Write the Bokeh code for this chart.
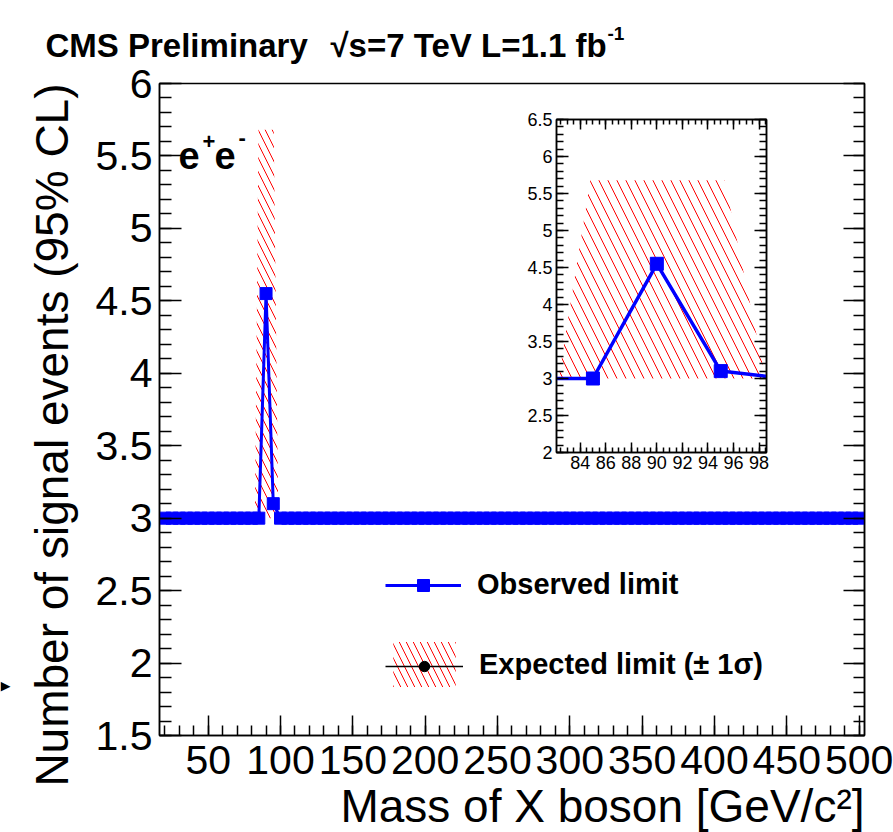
import numpy as np
from bokeh.plotting import figure
from bokeh.models import (Range1d, LinearAxis, FixedTicker, CustomJSTickFormatter,
                          Legend, LegendItem, Label, Title)
from bokeh.layouts import column
from bokeh.embed import file_html
from bokeh.resources import INLINE

# ---------------- data ----------------
obs_mass = list(range(20, 505, 5))                       # GeV/c^2, one point every 5 GeV
obs_limit = ([3.0] * 13 +                                # 20 ... 80
             [3.0, 4.55, 3.10, 3.0] +                    # 85, 90, 95, 100
             [3.0] * 80)                                 # 105 ... 500

exp_mass = [82.3, 84.8, 90.0, 95.3, 98.5]
exp_low = [3.0, 3.0, 3.0, 3.0, 3.0]
exp_high = [3.0, 5.68, 5.68, 5.68, 3.0]

x_major = [50, 100, 150, 200, 250, 300, 350, 400, 450, 500]
x_minor = list(range(20, 510, 10))
y_major = [1.5, 2.0, 2.5, 3.0, 3.5, 4.0, 4.5, 5.0, 5.5, 6.0]
y_minor = [round(1.5 + 0.1 * i, 1) for i in range(46)]

ins_x_major = [84, 86, 88, 90, 92, 94, 96, 98]
ins_x_minor = [82.5 + 0.5 * i for i in range(33)]
ins_y_major = [2.0, 2.5, 3.0, 3.5, 4.0, 4.5, 5.0, 5.5, 6.0, 6.5]
ins_y_minor = [round(2.0 + 0.1 * i, 1) for i in range(46)]

title_a = "CMS Preliminary"
title_b = "\u221as=7 TeV L=1.1 fb"
title_sup = "-1"
x_title = "Mass of X boson [GeV/c\u00b2]"
y_title = "Number of signal events (95% CL)"
obs_label = "Observed limit"
exp_label = "Expected limit (\u00b1 1\u03c3)"

# ---------------- style ----------------
FONT = "Liberation Sans"
BLUE = "#0000ff"
RED = "#ff0000"

FL, FR, FT, FB = 159, 864, 83, 735      # main frame edges in pixels
W, H = 893, 832

label_fmt = CustomJSTickFormatter(code="return String(Math.round(tick*1000)/1000);")
blank_fmt = CustomJSTickFormatter(code="return '';")


def style_axis(ax, tick_in, minor_in, font_size=None, standoff=5):
    ax.major_tick_in = tick_in
    ax.major_tick_out = 0
    ax.minor_tick_in = minor_in
    ax.minor_tick_out = 0
    ax.axis_line_color = "black"
    ax.axis_line_width = 1.5
    ax.major_tick_line_color = "black"
    ax.major_tick_line_width = 1.5
    ax.minor_tick_line_color = "black"
    ax.minor_tick_line_width = 1.5
    ax.major_label_standoff = standoff
    if font_size is not None:
        ax.major_label_text_font = FONT
        ax.major_label_text_font_size = font_size
        ax.major_label_text_color = "black"


# ---------------- main figure ----------------
p = figure(width=W, height=H, x_range=Range1d(16.35, 503.7), y_range=Range1d(1.5, 6.0),
           output_backend="svg", toolbar_location=None,
           min_border_left=FL, min_border_right=W - FR, min_border_top=FT, min_border_bottom=H - FB,
           background_fill_color="white", border_fill_color="white")
p.grid.visible = False
p.outline_line_color = "black"
p.outline_line_width = 1.5

band = p.varea(x=exp_mass, y1=exp_low, y2=exp_high, fill_alpha=0,
               hatch_pattern="\\", hatch_color=RED, hatch_weight=1, hatch_scale=14)
obs_line = p.line(obs_mass, obs_limit, line_color=BLUE, line_width=3)
obs_pts = p.scatter(obs_mass, obs_limit, marker="square", size=12,
                    fill_color=BLUE, line_color=BLUE)
# expected median: only shown as a legend sample (zero-length / zero-size marks on the plot)
exp_line = p.segment(x0=exp_mass, y0=exp_low, x1=exp_mass, y1=exp_low,
                     line_color="black", line_width=1.5)
exp_dot = p.scatter(exp_mass, exp_low, marker="circle", size=0,
                    fill_color="black", line_color="black")

xa = p.xaxis[0]
xa.ticker = FixedTicker(ticks=x_major, minor_ticks=x_minor)
xa.formatter = label_fmt
style_axis(xa, 20, 10, "41px", 10)

ya = p.yaxis[0]
ya.ticker = FixedTicker(ticks=y_major, minor_ticks=y_minor)
ya.formatter = label_fmt
style_axis(ya, 22, 12, "41px", 7)

ra = LinearAxis(ticker=FixedTicker(ticks=y_major, minor_ticks=y_minor), formatter=blank_fmt)
style_axis(ra, 21, 11, None, 0)
p.add_layout(ra, "right")

# axis titles, aligned to the high end of each axis
p.add_layout(Title(text=x_title, align="right", vertical_align="bottom", standoff=2,
                   text_font=FONT, text_font_size="46px", text_font_style="normal",
                   text_color="black"), "below")
p.add_layout(Title(text=y_title, align="right", vertical_align="bottom", standoff=30,
                   text_font=FONT, text_font_size="46px", text_font_style="normal",
                   text_color="black"), "left")

# legends
leg_common = dict(border_line_alpha=0, background_fill_alpha=0, padding=0, margin=0,
                  spacing=0, label_standoff=16, label_text_font=FONT,
                  label_text_font_style="bold", label_text_font_size="29px",
                  label_text_color="black")
leg_obs = Legend(items=[LegendItem(label=obs_label, renderers=[obs_line, obs_pts])],
                 location=(385 - FL, FB - 601), glyph_width=76, glyph_height=30, **leg_common)
leg_exp = Legend(items=[LegendItem(label=exp_label, renderers=[band])],
                 location=(385 - FL, FB - 692), glyph_width=78, glyph_height=56, **leg_common)
leg_exp_line = dict(leg_common)
leg_exp_line["label_text_font_size"] = "1px"
leg_exp2 = Legend(items=[LegendItem(label=" ", renderers=[exp_line, exp_dot])],
                  location=(385 - FL, FB - 679), glyph_width=78, glyph_height=26, **leg_exp_line)
p.add_layout(leg_exp)
p.add_layout(leg_exp2)
p.add_layout(leg_obs)

# channel text e+e-
for txt, xx, yy, fs in [("e", 178, 155, "38px"), ("+", 202, 141, "22px"),
                        ("e", 214, 155, "38px"), ("-", 238, 137, "22px")]:
    p.add_layout(Label(x=xx - FL, y=FB - yy, x_units="screen", y_units="screen", text=txt,
                       text_font=FONT, text_font_style="bold", text_font_size=fs,
                       text_baseline="alphabetic", text_align="left", text_color="black"))

# ---------------- inset ----------------
IL, IT = 397, 111
ins = figure(width=398, height=371, x_range=Range1d(82.15, 98.58), y_range=Range1d(2.0, 6.5),
             output_backend="svg", toolbar_location=None,
             min_border_left=40, min_border_right=10, min_border_top=8, min_border_bottom=30,
             background_fill_color="white", border_fill_alpha=0,
             styles={"position": "absolute", "left": f"{IL}px", "top": f"{IT}px", "z-index": "5"})
ins.grid.visible = False
ins.outline_line_color = "black"
ins.outline_line_width = 1.5
ins.varea(x=exp_mass, y1=exp_low, y2=exp_high, fill_alpha=0,
          hatch_pattern="\\", hatch_color=RED, hatch_weight=1, hatch_scale=18)
ins.line(obs_mass, obs_limit, line_color=BLUE, line_width=3.5)
ins.scatter(obs_mass, obs_limit, marker="square", size=13, fill_color=BLUE, line_color=BLUE)

ixa = ins.xaxis[0]
ixa.ticker = FixedTicker(ticks=ins_x_major, minor_ticks=ins_x_minor)
ixa.formatter = label_fmt
style_axis(ixa, 10, 5, "18px", 3)
iya = ins.yaxis[0]
iya.ticker = FixedTicker(ticks=ins_y_major, minor_ticks=ins_y_minor)
iya.formatter = label_fmt
style_axis(iya, 12, 7, "18px", 4)
itop = LinearAxis(ticker=FixedTicker(ticks=ins_x_major, minor_ticks=ins_x_minor), formatter=blank_fmt)
style_axis(itop, 10, 5, None, 0)
ins.add_layout(itop, "above")
iright = LinearAxis(ticker=FixedTicker(ticks=ins_y_major, minor_ticks=ins_y_minor), formatter=blank_fmt)
style_axis(iright, 12, 7, None, 0)
ins.add_layout(iright, "right")

# ---------------- transparent overlay for the page title (pixel coordinates) ----------------
# separate root so that it is not frame-aligned with the main figure
ov = figure(width=W, height=H, x_range=Range1d(0, W), y_range=Range1d(H, 0),
            output_backend="svg", toolbar_location=None, x_axis_type=None, y_axis_type=None,
            min_border=0, background_fill_alpha=0, border_fill_alpha=0, outline_line_color=None,
            styles={"position": "absolute", "left": "0px", "top": "0px", "z-index": "10",
                    "pointer-events": "none"})
ov.grid.visible = False
for txt, xx, yy, fs in [(title_a, 45, 45, "33px"), (title_b, 330, 45, "33px"),
                        (title_sup, 607, 33, "19px")]:
    ov.add_layout(Label(x=xx, y=yy, text=txt, text_font=FONT, text_font_style="bold",
                        text_font_size=fs, text_baseline="alphabetic", text_align="left",
                        text_color="black"))
# small arrow head at the left edge of the picture
ov.add_layout(Label(x=0, y=685, text="\u25b6", text_font="DejaVu Sans", text_font_size="13px",
                    text_baseline="middle", text_align="left", text_color="black"))

root = column(p, ins)
open("out.html", "w").write(file_html([root, ov], INLINE))
